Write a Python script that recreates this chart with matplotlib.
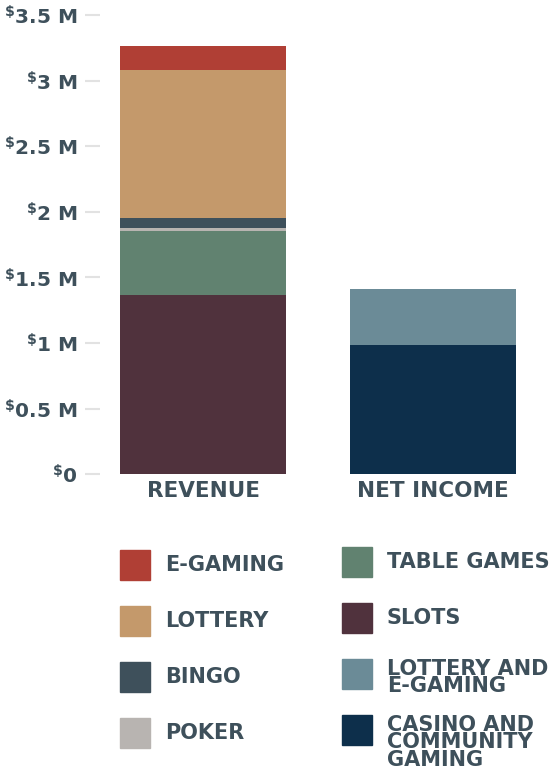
import matplotlib
matplotlib.use("Agg")
import matplotlib.pyplot as plt
from matplotlib.patches import Rectangle
import numpy as np

plt.rcParams['font.family'] = ['DejaVu Sans']
plt.rcParams['font.weight'] = 'bold'
plt.rcParams['mathtext.fontset'] = 'custom'
plt.rcParams['mathtext.rm'] = 'DejaVu Sans:bold'
plt.rcParams['mathtext.default'] = 'rm'

# data (millions of dollars)
bars = ["REVENUE", "NET INCOME"]
rev_names = ["SLOTS", "TABLE GAMES", "POKER", "BINGO", "LOTTERY", "E-GAMING"]
rev_vals = [1.366, 0.487, 0.023, 0.076, 1.128, 0.182]
rev_cols = ["#50323D", "#618270", "#B8B4B1", "#3E505B", "#C4996B", "#B03F35"]
net_names = ["CASINO AND\nCOMMUNITY\nGAMING", "LOTTERY AND\nE-GAMING"]
net_vals = [0.986, 0.425]
net_cols = ["#0D2F4B", "#6B8B97"]
yticks = [0, 0.5, 1, 1.5, 2, 2.5, 3, 3.5]
ylabels = ["0", "0.5 M", "1 M", "1.5 M", "2 M", "2.5 M", "3 M", "3.5 M"]

# legend layout: left column then right column
leg_left = ["E-GAMING", "LOTTERY", "BINGO", "POKER"]
leg_right = ["TABLE GAMES", "SLOTS", "LOTTERY AND\nE-GAMING", "CASINO AND\nCOMMUNITY\nGAMING"]

txt = "#3E505B"
W, H = 559, 775
fig = plt.figure(figsize=(W / 100, H / 100), dpi=100)

def fx(x):
    return x / W

def fy(y):
    return 1 - y / H

ax = fig.add_axes([fx(100), fy(474.3), fx(436), (474.3 - 15) / H])
width = 0.7217
bottom = 0
for v, c in zip(rev_vals, rev_cols):
    ax.bar(0, v, width, bottom=bottom, color=c, linewidth=0)
    bottom += v
bottom = 0
for v, c in zip(net_vals, net_cols):
    ax.bar(1, v, width, bottom=bottom, color=c, linewidth=0)
    bottom += v

ax.set_xlim(-0.448, 1.448)
ax.set_ylim(0, 3.5)
for s in ax.spines.values():
    s.set_visible(False)
ax.set_yticks(yticks)
ax.set_yticklabels([r"$^{\$}$" + l for l in ylabels], fontsize=14.5, color=txt)
ax.tick_params(axis='y', length=11, width=1.5, color="#E2E2E2", pad=5)
ax.set_xticks([0, 1])
ax.set_xticklabels(bars, fontsize=15.5, color=txt)
ax.tick_params(axis='x', length=0, pad=5)

all_cols = dict(zip(rev_names, rev_cols))
all_cols.update(dict(zip(net_names, net_cols)))

def legend_col(names, sx, tx, y0):
    for i, n in enumerate(names):
        top = y0 + i * 56
        fig.patches.append(Rectangle((fx(sx), fy(top + 30)), fx(30), 30 / H,
                                     color=all_cols[n], transform=fig.transFigure))
        if "\n" in n:
            fig.text(fx(tx), fy(top), n, fontsize=15, color=txt,
                     va='top', ha='left', linespacing=0.84)
        else:
            fig.text(fx(tx), fy(top + 15), n, fontsize=15, color=txt,
                     va='center', ha='left')

legend_col(leg_left, 120, 165, 550)
legend_col(leg_right, 342, 387, 547)

fig.savefig("out.png", dpi=100)
